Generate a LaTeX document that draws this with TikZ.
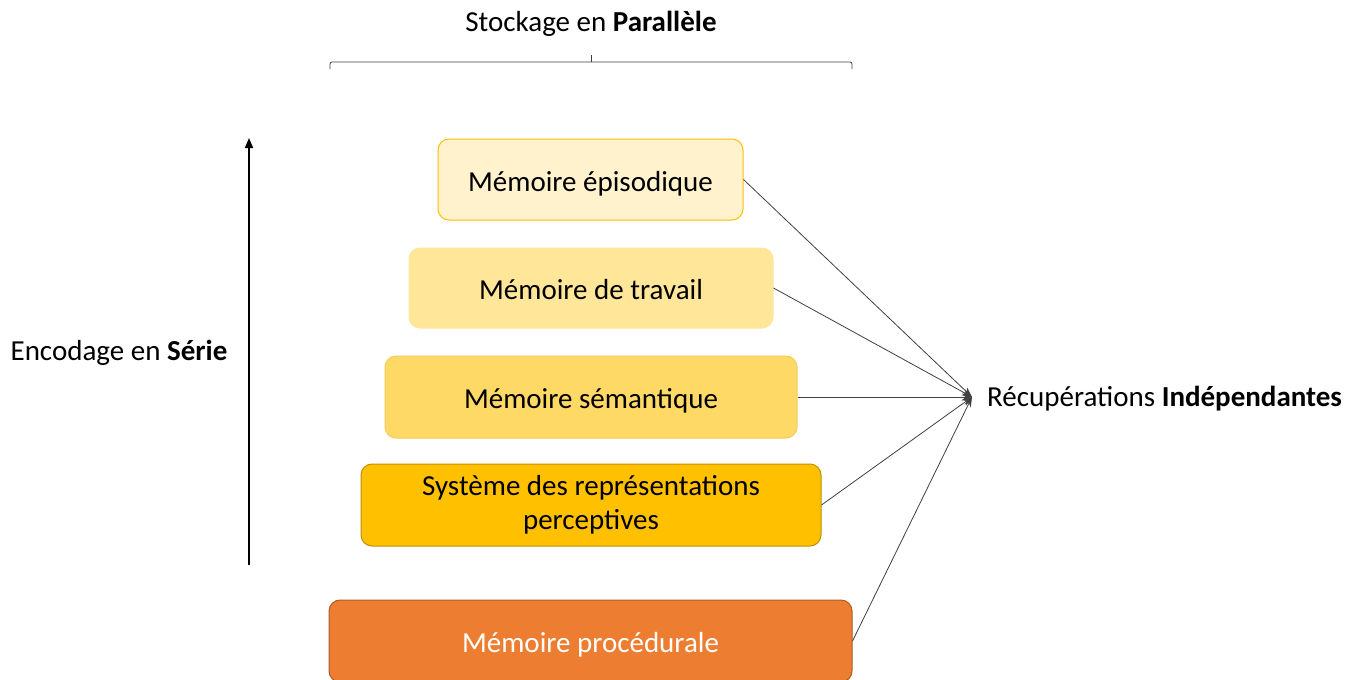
\documentclass[tikz,border=0pt]{standalone}
\usepackage{fontspec}
\setmainfont{Carlito}
\usetikzlibrary{arrows.meta}
\definecolor{epfill}{HTML}{FFF2CC}
\definecolor{epdraw}{HTML}{FFC000}
\definecolor{trfill}{HTML}{FFE699}
\definecolor{smfill}{HTML}{FFD966}
\definecolor{smdraw}{HTML}{F5CE55}
\definecolor{syfill}{HTML}{FFC000}
\definecolor{sydraw}{HTML}{BF9000}
\definecolor{prfill}{HTML}{ED7D31}
\definecolor{prdraw}{HTML}{AE5A21}
\definecolor{lin}{HTML}{404040}
\tikzset{
  membox/.style={rounded corners=11pt, line width=1pt, align=center, inner sep=0pt,
    font=\fontsize{29}{34}\selectfont},
  oneline/.style={text height=29pt, text depth=6pt},
  conn/.style={lin, line width=0.8pt, -{Stealth[length=10pt,width=7pt]}},
  lbl/.style={font=\fontsize{29}{34}\selectfont, inner sep=0pt, text height=24pt, text depth=6pt}
}
\begin{document}
\begin{tikzpicture}[x=1pt,y=-1pt]
\useasboundingbox[fill=white] (0,0) rectangle (1358,680);
\node[membox, oneline, fill=epfill, draw=epdraw, minimum width=305pt, minimum height=81pt] (ep) at (590.5,179.5) {Mémoire épisodique};
\node[membox, oneline, fill=trfill, draw=trfill, minimum width=364pt, minimum height=80pt] (tr) at (591,288) {Mémoire de travail};
\node[membox, oneline, fill=smfill, draw=smdraw, minimum width=412pt, minimum height=82pt] (sm) at (591,397) {Mémoire sémantique};
\node[membox, fill=syfill, draw=sydraw, minimum width=460pt, minimum height=82pt] (sy) at (591,505) {Système des représentations\\perceptives};
\node[membox, oneline, fill=prfill, draw=prdraw, text=white, minimum width=523pt, minimum height=82pt] (pr) at (590.5,641) {Mémoire procédurale};

\coordinate (conv) at (972,397);
\node[lbl, anchor=west] (rec) at (987,397) {Récupérations \textbf{Indépendantes}};
\foreach \n in {ep,tr,sm,sy,pr} { \draw[conn] (\n.east) -- (conv); }

\node[lbl] (enc) at (119,351) {Encodage en \textbf{Série}};
\coordinate (abot) at (249,565);
\coordinate (atop) at (249,138);
\draw[line width=1.5pt, -{Triangle[length=10pt,width=8pt]}] (abot) -- (atop);

\node[lbl] (sto) at (591,22) {Stockage en \textbf{Parallèle}};
\coordinate (bl) at (330,69);
\coordinate (bm) at (591,55);
\coordinate (br) at (852,69);
\draw[lin, line width=0.8pt, rounded corners=2pt] (bl) |- (591,62) -| (br);
\draw[lin, line width=0.8pt] (591,62) -- (bm);
\end{tikzpicture}
\end{document}
